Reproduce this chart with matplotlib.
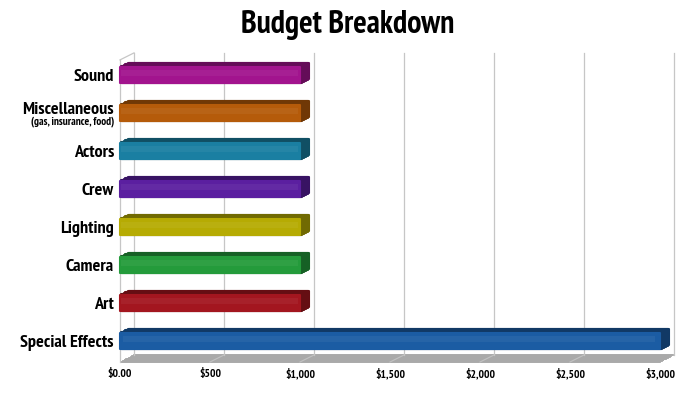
import matplotlib
matplotlib.use("Agg")
import matplotlib.pyplot as plt
import matplotlib.transforms as mtrans
import numpy as np

categories = ["Special Effects", "Art", "Camera", "Lighting", "Crew", "Actors",
              "Miscellaneous", "Sound"]
values = [3000, 1000, 1000, 1000, 1000, 1000, 1000, 1000]
colors = ["#1B5CA3", "#A3161F", "#249B3B", "#B6AB03", "#5B1FA0", "#1A7FA2",
          "#B55B0A", "#A2148E"]
sub_label = "(gas, insurance, food)"
xticks = [0, 500, 1000, 1500, 2000, 2500, 3000]
xticklabels = ["$0.00", "$500", "$1,000", "$1,500", "$2,000", "$2,500", "$3,000"]
title = "Budget Breakdown"

FAM = ["PT Sans Narrow", "Barlow Condensed", "Roboto Condensed", "Liberation Sans",
       "DejaVu Sans"]

W, H, DPI = 700, 394, 100
fig = plt.figure(figsize=(W / DPI, H / DPI), dpi=DPI)
fig.patch.set_facecolor("white")
renderer = fig.canvas.get_renderer()

def fit_size(s, target_px, base=10):
    t = fig.text(0, 0, s, fontsize=base, fontweight="bold", family=FAM)
    w = t.get_window_extent(renderer).width
    t.remove()
    return base * target_px / w

# front plane pixel geometry
x0p, x1p = 120, 660
ytop, ybot = 58, 362
ax = fig.add_axes([x0p / W, (H - ybot) / H, (x1p - x0p) / W, (ybot - ytop) / H])
ax.set_xlim(0, 3000)
ax.set_ylim(-0.55, 7.45)
ax.axis("off")

def shift(dx, dy):
    return ax.transData + mtrans.ScaledTranslation(dx / DPI, dy / DPI, fig.dpi_scale_trans)

DX, DY = 14, 7  # depth offset of back wall (px, up)
back = shift(DX, DY)
ymin, ymax = ax.get_ylim()
inv = ax.transData.inverted()

# floor (stacked offset lines)
nstep = 16
for k in range(nstep + 1):
    t = k / nstep
    ax.plot([0, 3000], [ymin, ymin], color="#a9a9a9", lw=1.2,
            transform=shift(DX * t, DY * t), solid_capstyle="butt", zorder=1,
            clip_on=False)
for xv in xticks[1:-1]:
    a = inv.transform(ax.transData.transform((xv, ymin)))
    b = inv.transform(back.transform((xv, ymin)))
    ax.plot([a[0], b[0]], [a[1], b[1]], color="#c2c2c2", lw=0.8, zorder=1.5,
            clip_on=False)

# back wall gridlines
for xv in xticks:
    ax.plot([xv, xv], [ymin, ymax - 0.05], color="#c6c6c6", lw=0.9,
            transform=back, zorder=1, clip_on=False)

# left wall outline
ft = (0, ymax - 0.05)
bt = inv.transform(back.transform(ft))
ax.plot([0, 0], [ymin, ft[1]], color="#c6c6c6", lw=0.9, zorder=1, clip_on=False)
ax.plot([0, bt[0]], [ft[1], bt[1]], color="#c6c6c6", lw=0.9, zorder=1, clip_on=False)

# bars with 3D extrusion
ypos = np.arange(len(categories))
bh = 0.44
BDX, BDY = 9, 4
def darker(c, f):
    r, g, b = matplotlib.colors.to_rgb(c)
    return (r * f, g * f, b * f)

for i, (v, c) in enumerate(zip(values, colors)):
    n = 10
    for k in range(n, 0, -1):
        t = k / n
        ax.barh(ypos[i], v, height=bh, left=0, color=darker(c, 0.62),
                edgecolor=darker(c, 0.62), linewidth=1.5, joinstyle="round",
                transform=shift(BDX * t, BDY * t), zorder=3, clip_on=False)
    ax.barh(ypos[i], v, height=bh, left=0, color=c, edgecolor=c,
            linewidth=1.5, joinstyle="round", zorder=4, clip_on=False)
    ax.barh(ypos[i] + bh * 0.12, v * 0.985, height=bh * 0.35, left=v * 0.005,
            color="white", alpha=0.05, linewidth=0, zorder=5, clip_on=False)

# category labels
fs_lab = fit_size("Special Effects", 94)
fs_sub = fit_size(sub_label, 84)
fs_tick = fit_size("$1,000", 30)
fs_title = fit_size(title, 215)

lab_x = -6 * 3000 / 540
for i, name in enumerate(categories):
    if name == "Miscellaneous":
        ax.text(lab_x, ypos[i] + 0.08, name, ha="right", va="center",
                fontsize=fs_lab, fontweight="bold", family=FAM)
        ax.text(lab_x, ypos[i] - 0.22, sub_label, ha="right", va="center",
                fontsize=fs_sub, fontweight="bold", family=FAM)
    else:
        ax.text(lab_x, ypos[i] - 0.04, name, ha="right", va="center",
                fontsize=fs_lab, fontweight="bold", family=FAM)

# x tick labels
for xv, lab in zip(xticks, xticklabels):
    ax.text(xv, ymin - 0.3, lab, ha="center", va="center", fontsize=fs_tick,
            fontweight="bold", family=FAM)

fig.text(348 / W, 1 - 25 / H, title, ha="center", va="center", fontsize=fs_title,
         fontweight="bold", family=FAM)

fig.savefig("out.png", dpi=DPI, facecolor="white")
